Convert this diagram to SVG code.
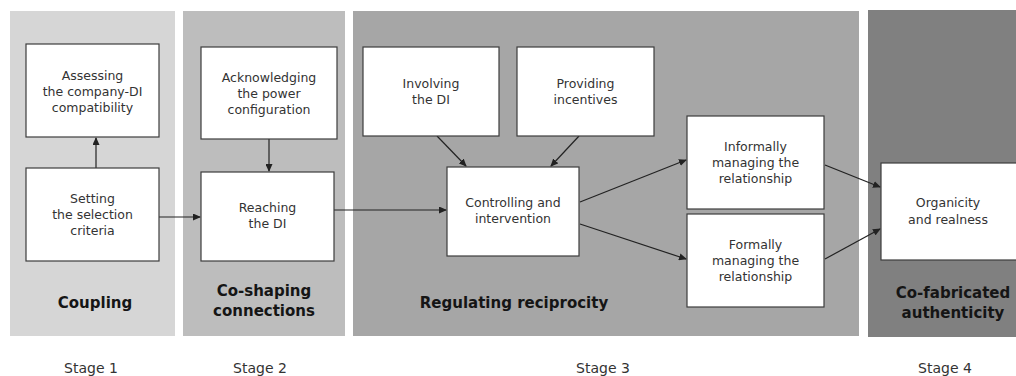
<svg xmlns="http://www.w3.org/2000/svg" width="1016" height="376" viewBox="0 0 1016 376">
<style>
.box{fill:#ffffff;stroke:#3c3c3c;stroke-width:1.2}
.t{font-family:"DejaVu Sans",Verdana,sans-serif;font-size:12.5px;fill:#333;text-anchor:middle}
.b{font-family:"DejaVu Sans",Verdana,sans-serif;font-size:15px;font-weight:bold;fill:#151515;text-anchor:middle}
.s{font-family:"DejaVu Sans",Verdana,sans-serif;font-size:14px;fill:#333;text-anchor:middle}
.c{stroke:#222;stroke-width:1.2;fill:none;marker-end:url(#ah)}
</style>
<defs>
<marker id="ah" markerWidth="8" markerHeight="7" refX="7" refY="3.5" orient="auto" markerUnits="userSpaceOnUse">
<path d="M0,0 L8,3.5 L0,7 Z" fill="#222"/>
</marker>
</defs>
<rect width="1016" height="376" fill="#ffffff"/>
<g id="stage1">
<rect x="10" y="11" width="165" height="325" fill="#d6d6d6"/>
<text class="b" x="95" y="308">Coupling</text>
<text class="s" x="91" y="373">Stage 1</text>
</g>
<g id="stage2">
<rect x="183" y="11" width="162" height="325" fill="#bdbdbd"/>
<text class="b" x="264" y="296">Co-shaping</text>
<text class="b" x="264" y="316">connections</text>
<text class="s" x="260" y="373">Stage 2</text>
</g>
<g id="stage3">
<rect x="353" y="11" width="506" height="325" fill="#a6a6a6"/>
<text class="b" x="514" y="308">Regulating reciprocity</text>
<text class="s" x="603" y="373">Stage 3</text>
</g>
<g id="stage4">
<rect x="868" y="10" width="150" height="327" fill="#808080"/>
<text class="b" x="953" y="298">Co-fabricated</text>
<text class="b" x="953" y="318">authenticity</text>
<text class="s" x="945" y="373">Stage 4</text>
</g>
<g id="connectors">
<line class="c" x1="96" y1="168" x2="96" y2="138"/>
<line class="c" x1="159" y1="217" x2="200" y2="217"/>
<line class="c" x1="269" y1="139" x2="269" y2="171"/>
<line class="c" x1="334" y1="210" x2="446" y2="210"/>
<line class="c" x1="437" y1="136" x2="466" y2="166"/>
<line class="c" x1="579" y1="136" x2="551" y2="166"/>
<line class="c" x1="580" y1="202" x2="686" y2="160"/>
<line class="c" x1="580" y1="224" x2="686" y2="259"/>
<line class="c" x1="825" y1="165" x2="880" y2="187"/>
<line class="c" x1="825" y1="259" x2="880" y2="229"/>
</g>
<g id="assessing">
<rect class="box" x="26" y="44" width="133" height="93"/>
<text class="t" x="92.5" y="80">Assessing</text>
<text class="t" x="92.5" y="96">the company-DI</text>
<text class="t" x="92.5" y="112">compatibility</text>
</g>
<g id="setting">
<rect class="box" x="26" y="168" width="133" height="93"/>
<text class="t" x="92.5" y="203">Setting</text>
<text class="t" x="92.5" y="219">the selection</text>
<text class="t" x="92.5" y="235">criteria</text>
</g>
<g id="acknowledging">
<rect class="box" x="201" y="47" width="136" height="92"/>
<text class="t" x="269" y="82">Acknowledging</text>
<text class="t" x="269" y="98">the power</text>
<text class="t" x="269" y="114">configuration</text>
</g>
<g id="reaching">
<rect class="box" x="201" y="172" width="133" height="89"/>
<text class="t" x="267.5" y="212">Reaching</text>
<text class="t" x="267.5" y="228">the DI</text>
</g>
<g id="involving">
<rect class="box" x="363" y="47" width="136" height="89"/>
<text class="t" x="431" y="88">Involving</text>
<text class="t" x="431" y="104">the DI</text>
</g>
<g id="providing">
<rect class="box" x="517" y="47" width="137" height="89"/>
<text class="t" x="585.5" y="88">Providing</text>
<text class="t" x="585.5" y="104">incentives</text>
</g>
<g id="controlling">
<rect class="box" x="447" y="167" width="132" height="89"/>
<text class="t" x="513" y="207">Controlling and</text>
<text class="t" x="513" y="223">intervention</text>
</g>
<g id="informally">
<rect class="box" x="687" y="116" width="137" height="93"/>
<text class="t" x="755.5" y="151">Informally</text>
<text class="t" x="755.5" y="167">managing the</text>
<text class="t" x="755.5" y="183">relationship</text>
</g>
<g id="formally">
<rect class="box" x="687" y="214" width="137" height="93"/>
<text class="t" x="755.5" y="249">Formally</text>
<text class="t" x="755.5" y="265">managing the</text>
<text class="t" x="755.5" y="281">relationship</text>
</g>
<g id="organicity">
<rect class="box" x="881" y="163" width="140" height="97"/>
<text class="t" x="948" y="207">Organicity</text>
<text class="t" x="948" y="224">and realness</text>
</g>
</svg>
